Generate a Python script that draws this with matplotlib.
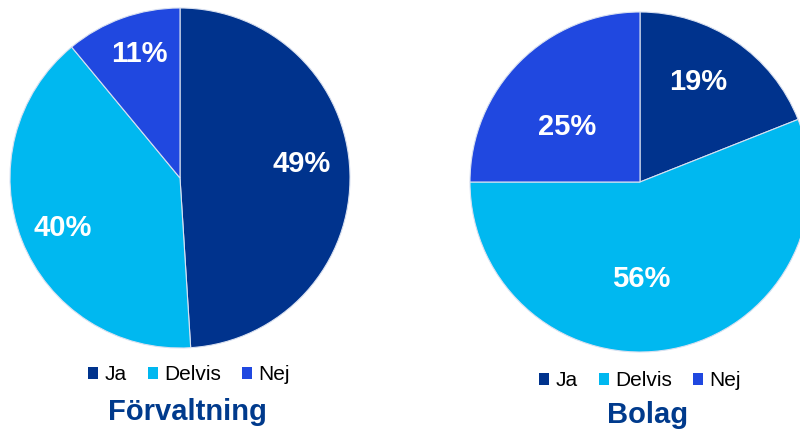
import numpy as np
import matplotlib
matplotlib.use("Agg")
import matplotlib.pyplot as plt
from matplotlib.patches import Patch

plt.rcParams['font.family'] = ['Liberation Sans', 'DejaVu Sans']

categories = ["Ja", "Delvis", "Nej"]
forvaltning = [49, 40, 11]
bolag = [19, 56, 25]
titles = ["Förvaltning", "Bolag"]

colors = ["#00338D", "#00B8F0", "#2048E0"]
title_color = "#003A8C"

W, H = 800, 432
fig = plt.figure(figsize=(W / 100, H / 100), dpi=100)


def px_axes(x0, y0, x1, y1):
    return fig.add_axes([x0 / W, 1 - y1 / H, (x1 - x0) / W, (y1 - y0) / H])


def draw_pie(ax, values, radii, angle_shift):
    wedges, _ = ax.pie(values, colors=colors, startangle=90, counterclock=False,
                       wedgeprops=dict(edgecolor="#d8e0f0", linewidth=0.8))
    for w, v, r, da in zip(wedges, values, radii, angle_shift):
        mid = np.deg2rad((w.theta1 + w.theta2) / 2 + da)
        ax.text(r * np.cos(mid), r * np.sin(mid), f"{v}%", ha="center", va="center",
                color="white", fontsize=21, fontweight="bold")
    ax.set_xlim(-1, 1)
    ax.set_ylim(-1, 1)
    ax.set_aspect("equal")
    ax.axis("off")


ax1 = px_axes(10, 8, 350, 348)
draw_pie(ax1, forvaltning, [0.72, 0.75, 0.77], [5, 1.5, -1.5])

ax2 = px_axes(470, 12, 810, 352)
draw_pie(ax2, bolag, [0.68, 0.57, 0.54], [4, -10, 8])

handles = [Patch(facecolor=c, edgecolor="none") for c in colors]
for cx, cy, title, tx, ty in [(189, 375, titles[0], 187, 412),
                              (640, 381, titles[1], 648, 415)]:
    fig.legend(handles, categories, loc="center", bbox_to_anchor=(cx / W, 1 - cy / H),
               ncol=3, frameon=False, fontsize=15, handlelength=0.5, handleheight=0.5,
               handletextpad=0.3, columnspacing=1.0, borderpad=0)
    fig.text(tx / W, 1 - ty / H, title, ha="center", va="center",
             fontsize=21, fontweight="bold", color=title_color)

fig.savefig("out.png", dpi=100)
